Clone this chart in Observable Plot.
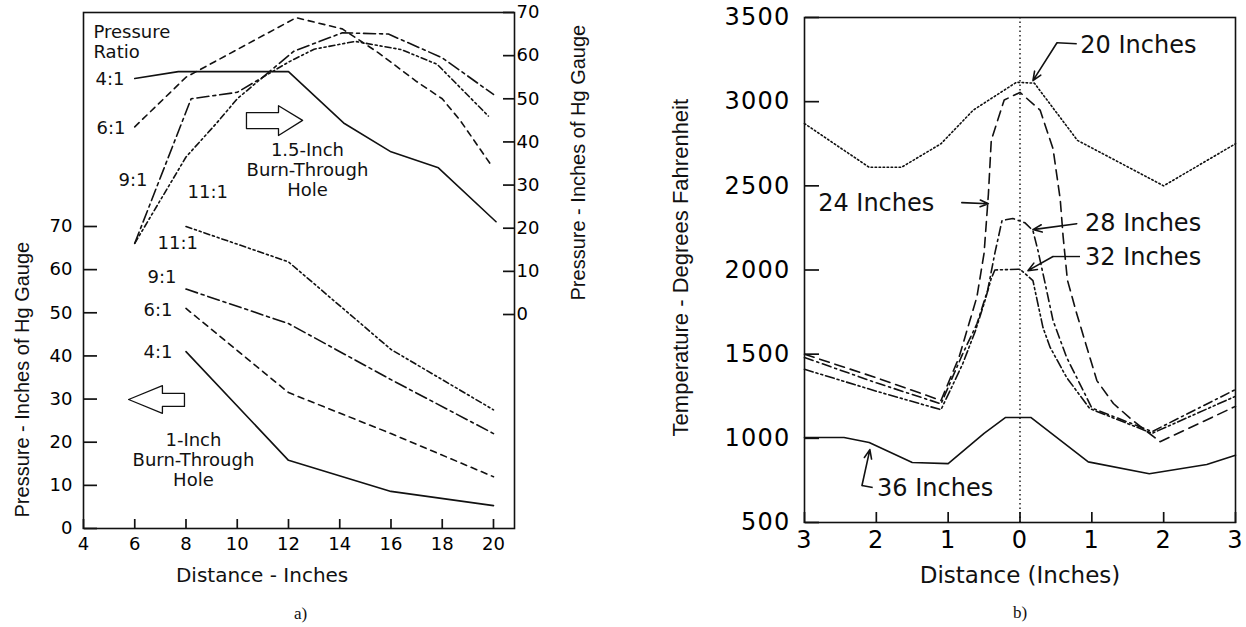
<!DOCTYPE html>
<html><head><meta charset="utf-8">
<script src="https://cdn.jsdelivr.net/npm/d3@7"></script>
<script src="https://cdn.jsdelivr.net/npm/@observablehq/plot@0.6"></script>
<style>
body{margin:0;background:#fff;}
#wrap{position:relative;width:1246px;height:627px;overflow:hidden;background:#fff;}
#a{position:absolute;left:0;top:0;}
#b{position:absolute;left:620px;top:0;}
</style></head><body><div id="wrap"><div id="a"></div><div id="b"></div></div>
<script>
// ---------- Panel a) data ----------
const xTicksA = [4, 6, 8, 10, 12, 14, 16, 18, 20];
const yTicksA = [0, 10, 20, 30, 40, 50, 60, 70];
const yTicksB = [0, 10, 20, 30, 40, 50, 60, 70];
// 1-inch burn-through hole (left axis)
const distLower = [8, 12, 16, 20];
const lower4 = [41, 15.8, 8.6, 5.3];
const lower6 = [51, 31.5, 22, 12];
const lower9 = [55.5, 47.5, 34.5, 22];
const lower11 = [70, 61.8, 41.5, 27.5];
// 1.5-inch burn-through hole (right axis)
const up4x = [6, 7.7, 12, 14.15, 16, 17.85, 20.1];
const up4 = [54.7, 56.3, 56.3, 44.4, 37.7, 34, 21.5];
const up6x = [6, 8, 12.3, 14.1, 15.5, 17, 18, 18.7, 19.9];
const up6 = [43.5, 55, 68.8, 66.2, 60.7, 54, 50, 45, 34.7];
const up9x = [6, 8.2, 10, 11, 12.2, 14.1, 15.9, 18, 20];
const up9 = [16.5, 50, 51.5, 55, 61, 65.3, 65, 59.5, 51];
const up11x = [6, 8, 9.2, 10, 11, 12, 13, 14.6, 16.4, 17.8, 19.8];
const up11 = [16.5, 36.5, 44.4, 50, 55, 58.5, 61.5, 63.3, 61.4, 58, 46];

// ---------- Panel b) data ----------
const xTicksB = [-3, -2, -1, 0, 1, 2, 3];
const tTicks = [500, 1000, 1500, 2000, 2500, 3000, 3500];
const x20 = [-3, -2.1, -1.65, -1.1, -0.65, -0.05, 0.2, 0.8, 2, 3];
const t20 = [2870, 2610, 2610, 2750, 2950, 3115, 3110, 2770, 2500, 2750];
const x24 = [-3, -2, -1.1, -0.85, -0.6, -0.5, -0.44, -0.4, -0.22, 0, 0.28, 0.46, 0.56, 0.6, 0.66, 0.79, 1.07, 1.3, 1.57, 1.95, 3];
const t24 = [1500, 1360, 1225, 1480, 1840, 2100, 2450, 2770, 3010, 3055, 2950, 2720, 2420, 2200, 1940, 1740, 1343, 1207, 1106, 980, 1190];
const x28 = [-3, -2, -1.1, -0.8, -0.6, -0.45, -0.35, -0.25, -0.1, 0.07, 0.18, 0.25, 0.35, 0.46, 0.65, 0.88, 1.0, 1.84, 3];
const t28 = [1480, 1330, 1205, 1500, 1680, 1880, 2100, 2294, 2306, 2280, 2234, 2116, 1920, 1700, 1480, 1284, 1180, 1040, 1290];
const x32 = [-3, -2, -1.1, -0.8, -0.62, -0.5, -0.4, -0.35, 0, 0.18, 0.32, 0.42, 0.65, 0.97, 1.84, 3];
const t32 = [1410, 1280, 1170, 1440, 1640, 1800, 1950, 2000, 2005, 1937, 1658, 1540, 1361, 1177, 1030, 1250];
const x36 = [-3, -2.45, -2.1, -1.5, -1.0, -0.5, -0.2, 0.15, 0.95, 1.8, 2.6, 3];
const t36 = [1005, 1005, 975, 856, 850, 1030, 1124, 1124, 860, 790, 845, 900];

// ---------- annotation text ----------
const annoA = [
  {x: 4.39, y: 115.0, t: "Pressure"}, {x: 4.39, y: 110.3, t: "Ratio"},
  {x: 4.47, y: 104.1, t: "4:1"}, {x: 4.51, y: 92.7, t: "6:1"},
  {x: 5.37, y: 80.7, t: "9:1"}, {x: 8.06, y: 77.9, t: "11:1"},
  {x: 6.89, y: 66.1, t: "11:1"}, {x: 6.5, y: 58.2, t: "9:1"},
  {x: 6.34, y: 50.5, t: "6:1"}, {x: 6.34, y: 40.8, t: "4:1"}
];
const holeA = [
  {x: 12.74, y: 87.6, t: "1.5-Inch"}, {x: 12.74, y: 83.0, t: "Burn-Through"}, {x: 12.74, y: 78.3, t: "Hole"},
  {x: 8.29, y: 20.4, t: "1-Inch"}, {x: 8.29, y: 15.8, t: "Burn-Through"}, {x: 8.29, y: 11.1, t: "Hole"}
];
const arrowRX = [10.36, 11.61, 11.61, 12.55, 11.61, 11.61, 10.36, 10.36];
const arrowRY = [96.4, 96.4, 98.0, 94.6, 91.1, 92.7, 92.7, 96.4];
const arrowLX = [7.94, 7.08, 7.08, 5.76, 7.08, 7.08, 7.94, 7.94];
const arrowLY = [31.3, 31.3, 33.1, 29.9, 26.7, 28.3, 28.3, 31.3];

const annoB = [
  {x: 0.84, y: 3333, t: "20 Inches"}, {x: -2.81, y: 2394, t: "24 Inches"},
  {x: 0.905, y: 2275, t: "28 Inches"}, {x: 0.905, y: 2074, t: "32 Inches"},
  {x: -1.99, y: 702, t: "36 Inches"}
];
const leaderArrows = [
  {x1: 0.515, y1: 3350, x2: 0.18, y2: 3125},
  {x1: -0.81, y1: 2400, x2: -0.44, y2: 2394},
  {x1: 0.79, y1: 2275, x2: 0.18, y2: 2240},
  {x1: 0.46, y1: 2080, x2: 0.11, y2: 1996},
  {x1: -2.2, y1: 720, x2: -2.09, y2: 933}
];
const leaderSegs = [
  {x1: 0.79, y1: 3344, x2: 0.515, y2: 3350},
  {x1: 0.835, y1: 2080, x2: 0.46, y2: 2080},
  {x1: -2.05, y1: 708, x2: -2.2, y2: 720}
];

const rows = (xs, ys) => xs.map((x, i) => ({x, y: ys[i]}));
const INK = "#111";
const SW = 1.6;
const OFF = 49.6; // right-axis zero in left-axis units

const XA = [4, 20.82], YA = [0, 119.6];
const XB = [-3, 3], YB = [500, 3500];

// ---------- Panel a ----------
const lineA = (xs, ys, dash, off = 0) => Plot.line(rows(xs, ys), {
  x: "x", y: d => d.y + off, stroke: INK, strokeWidth: SW, strokeDasharray: dash
});
const svgA = Plot.plot({
  width: 620, height: 627,
  marginLeft: 83, marginRight: 106, marginTop: 12, marginBottom: 99,
  x: {domain: XA, label: null},
  y: {domain: YA, label: null},
  style: {fontFamily: "DejaVu Sans", fontSize: "18px"},
  marks: [
    Plot.frame({stroke: INK, strokeWidth: 1.6}),
    // inward ticks: axis tick marks anchored on the opposite side of the frame edge
    Plot.axisX({anchor: "top", frameAnchor: "bottom", ticks: xTicksA, tickSize: 10, fill: "none", label: null, stroke: INK, strokeWidth: 1.7}),
    Plot.axisY({anchor: "right", frameAnchor: "left", ticks: yTicksA, tickSize: 13, fill: "none", label: null, stroke: INK, strokeWidth: 1.7}),
    Plot.axisY({anchor: "left", frameAnchor: "right", ticks: yTicksB.map(v => v + OFF), tickSize: 11, fill: "none", label: null, stroke: INK, strokeWidth: 1.7}),
    Plot.axisX({ticks: xTicksA, tickSize: 0, tickPadding: 9, tickFormat: d => String(d), label: null, fontSize: 18}),
    Plot.axisY({ticks: yTicksA, tickSize: 0, tickPadding: 11, tickFormat: d => String(d), label: null, fontSize: 18}),
    Plot.axisY({anchor: "right", ticks: yTicksB.map(v => v + OFF), tickSize: 0, tickPadding: 2,
      tickFormat: d => String(Math.round(d - OFF)), label: null, fontSize: 18}),
    lineA(distLower, lower4, null),
    lineA(distLower, lower6, "6,5"),
    lineA(distLower, lower9, "12,4,3,4"),
    lineA(distLower, lower11, "6,3,2,3,2,3"),
    lineA(up4x, up4, null, OFF),
    lineA(up6x, up6, "6,5", OFF),
    lineA(up9x, up9, "12,4,3,4", OFF),
    lineA(up11x, up11, "6,3,2,3,2,3", OFF),
    Plot.line(rows(arrowRX, arrowRY), {x: "x", y: "y", stroke: INK, strokeWidth: 1.3}),
    Plot.line(rows(arrowLX, arrowLY), {x: "x", y: "y", stroke: INK, strokeWidth: 1.3}),
    Plot.text(annoA, {x: "x", y: "y", text: "t", textAnchor: "start", fontSize: 18, fill: INK, ariaLabel: "anno"}),
    Plot.text(holeA, {x: "x", y: "y", text: "t", textAnchor: "middle", fontSize: 18, fill: INK, ariaLabel: "anno"}),
    Plot.text([{x: 10.97, y: 0}], {x: "x", y: "y", text: () => "Distance - Inches", dy: 47, fontSize: 20, fill: INK, ariaLabel: "xtitle"}),
    Plot.text([{x: 4, y: 34.5}], {x: "x", y: "y", text: () => "Pressure - Inches of Hg Gauge", rotate: -90, dx: -61,
      fontSize: 20, fontFamily: "Liberation Sans", fill: INK}),
    Plot.text([{x: 20.82, y: 84.8}], {x: "x", y: "y", text: () => "Pressure - Inches of Hg Gauge", rotate: -90, dx: 64,
      fontSize: 20, fontFamily: "Liberation Sans", fill: INK}),
    Plot.text([{x: 12.47, y: 0}], {x: "x", y: "y", text: () => "a)", dy: 85, fontSize: 17, fontFamily: "Liberation Serif", fill: INK})
  ]
});
document.getElementById("a").appendChild(svgA);

// ---------- Panel b ----------
const lineB = (xs, ys, dash) => Plot.line(rows(xs, ys), {
  x: "x", y: "y", stroke: INK, strokeWidth: SW, strokeDasharray: dash
});
const svgB = Plot.plot({
  width: 626, height: 627,
  marginLeft: 184, marginRight: 11, marginTop: 17, marginBottom: 105,
  x: {domain: XB, label: null},
  y: {domain: YB, label: null},
  style: {fontFamily: "DejaVu Sans", fontSize: "24px"},
  marks: [
    Plot.frame({stroke: INK, strokeWidth: 1.6}),
    Plot.ruleX([0], {stroke: INK, strokeWidth: 1.4, strokeDasharray: "1.5,3"}),
    Plot.axisX({anchor: "top", frameAnchor: "bottom", ticks: xTicksB, tickSize: 11, fill: "none", label: null, stroke: INK, strokeWidth: 1.7}),
    Plot.axisY({anchor: "right", frameAnchor: "left", ticks: tTicks, tickSize: 14, fill: "none", label: null, stroke: INK, strokeWidth: 1.7}),
    Plot.axisX({ticks: xTicksB, tickSize: 0, tickPadding: 8, tickFormat: d => String(Math.abs(d)), label: null, fontSize: 24}),
    Plot.axisY({ticks: tTicks, tickSize: 0, tickPadding: 14, tickFormat: d => String(d), label: null, fontSize: 24}),
    lineB(x20, t20, "1.5,2.5"),
    lineB(x24, t24, "10,6"),
    lineB(x28, t28, "9,4,2,4"),
    lineB(x32, t32, "9,3,2,3,2,3"),
    lineB(x36, t36, null),
    Plot.link(leaderSegs, {x1: "x1", y1: "y1", x2: "x2", y2: "y2", stroke: INK, strokeWidth: 1.4}),
    Plot.arrow(leaderArrows, {x1: "x1", y1: "y1", x2: "x2", y2: "y2", stroke: INK, strokeWidth: 1.6, headLength: 9, headAngle: 45}),
    Plot.text(annoB, {x: "x", y: "y", text: "t", textAnchor: "start", fontSize: 24, fill: INK, ariaLabel: "anno"}),
    Plot.text([{x: 0, y: 500}], {x: "x", y: "y", text: () => "Distance (Inches)", dy: 53, fontSize: 23, fill: INK, ariaLabel: "xtitle"}),
    Plot.text([{x: -3, y: 2014}], {x: "x", y: "y", text: () => "Temperature - Degrees Fahrenheit", rotate: -90, dx: -124,
      fontSize: 22, fontFamily: "Liberation Sans", fill: INK}),
    Plot.text([{x: 0, y: 500}], {x: "x", y: "y", text: () => "b)", dy: 90, fontSize: 17, fontFamily: "Liberation Serif", fill: INK})
  ]
});
document.getElementById("b").appendChild(svgB);

const sa = d3.select(svgA), sb = d3.select(svgB);
sa.selectAll('g[aria-label="anno"] text').style("letter-spacing", "1.5px");
sa.selectAll('g[aria-label="xtitle"] text').style("letter-spacing", "0.7px");
sb.selectAll('g[aria-label="anno"] text').style("letter-spacing", "2.5px");
sb.selectAll('g[aria-label="xtitle"] text').style("letter-spacing", "2.7px");
sb.selectAll('g[aria-label="x-axis tick label"] text, g[aria-label="y-axis tick label"] text').style("letter-spacing", "1.2px");
</script></body></html>
